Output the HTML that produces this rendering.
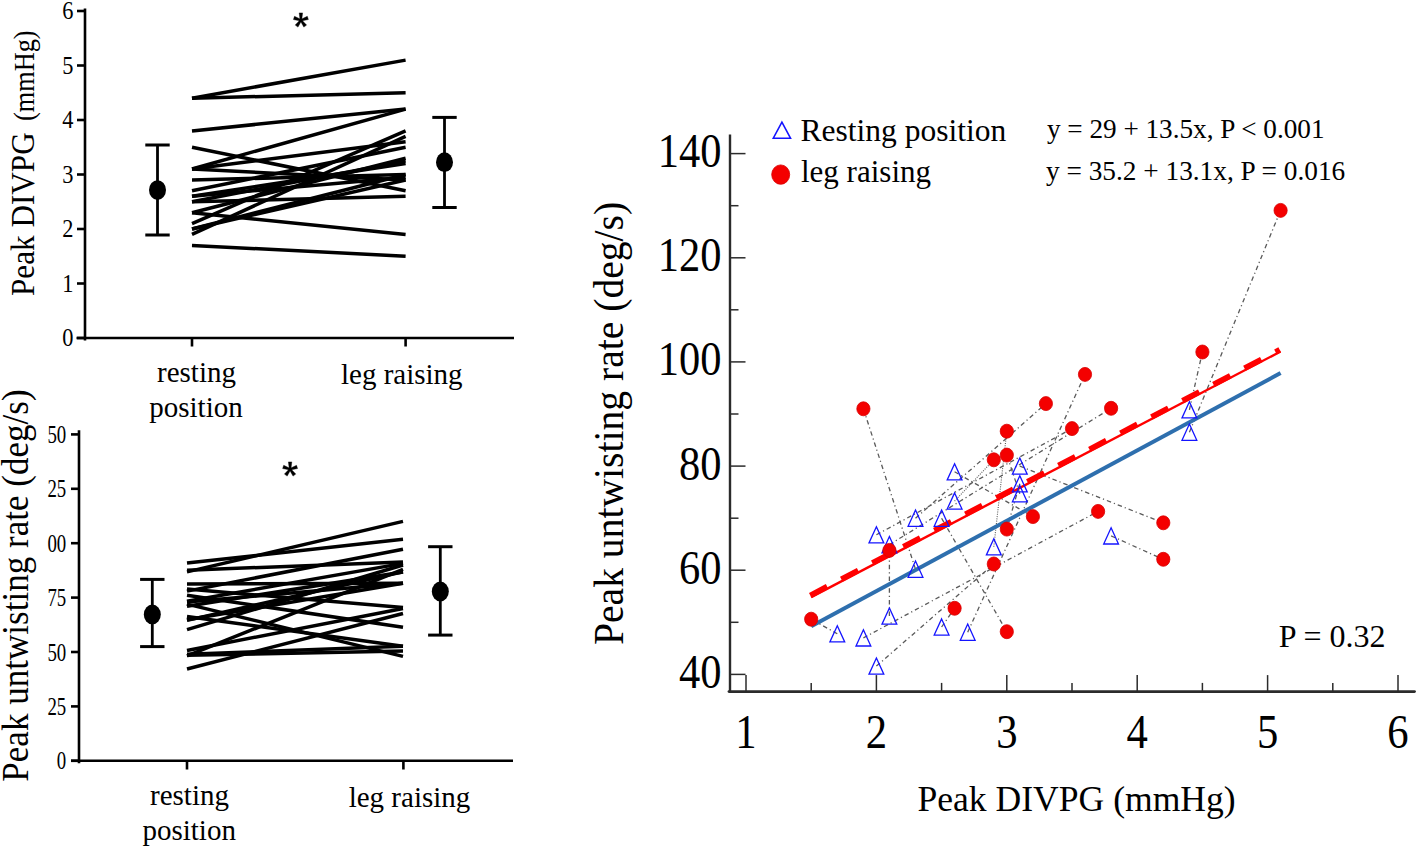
<!DOCTYPE html>
<html><head><meta charset="utf-8"><title>Figure</title>
<style>html,body{margin:0;padding:0;background:#fff;}svg{display:block;}text{font-family:"Liberation Serif",serif;fill:#000;}</style>
</head><body>
<svg width="1418" height="849" viewBox="0 0 1418 849">
<rect width="1418" height="849" fill="#fff"/>
<line x1="85" y1="9.7" x2="85" y2="339.3" stroke="#000" stroke-width="2.6" fill="none" stroke-linecap="square"/>
<line x1="76.5" y1="338" x2="514" y2="338" stroke="#000" stroke-width="2.6" fill="none"/>
<line x1="77" y1="338.0" x2="85" y2="338.0" stroke="#000" stroke-width="2.6" fill="none"/>
<text x="73.5" y="346.4" font-family="Liberation Serif" font-size="25.4" text-anchor="end" transform="translate(8.82,0) scale(0.88,1)">0</text>
<line x1="77" y1="283.5" x2="85" y2="283.5" stroke="#000" stroke-width="2.6" fill="none"/>
<text x="73.5" y="291.9" font-family="Liberation Serif" font-size="25.4" text-anchor="end" transform="translate(8.82,0) scale(0.88,1)">1</text>
<line x1="77" y1="229.0" x2="85" y2="229.0" stroke="#000" stroke-width="2.6" fill="none"/>
<text x="73.5" y="237.4" font-family="Liberation Serif" font-size="25.4" text-anchor="end" transform="translate(8.82,0) scale(0.88,1)">2</text>
<line x1="77" y1="174.5" x2="85" y2="174.5" stroke="#000" stroke-width="2.6" fill="none"/>
<text x="73.5" y="182.9" font-family="Liberation Serif" font-size="25.4" text-anchor="end" transform="translate(8.82,0) scale(0.88,1)">3</text>
<line x1="77" y1="120.0" x2="85" y2="120.0" stroke="#000" stroke-width="2.6" fill="none"/>
<text x="73.5" y="128.4" font-family="Liberation Serif" font-size="25.4" text-anchor="end" transform="translate(8.82,0) scale(0.88,1)">4</text>
<line x1="77" y1="65.5" x2="85" y2="65.5" stroke="#000" stroke-width="2.6" fill="none"/>
<text x="73.5" y="73.9" font-family="Liberation Serif" font-size="25.4" text-anchor="end" transform="translate(8.82,0) scale(0.88,1)">5</text>
<line x1="77" y1="11.0" x2="85" y2="11.0" stroke="#000" stroke-width="2.6" fill="none"/>
<text x="73.5" y="19.4" font-family="Liberation Serif" font-size="25.4" text-anchor="end" transform="translate(8.82,0) scale(0.88,1)">6</text>
<line x1="192" y1="338" x2="192" y2="346.5" stroke="#000" stroke-width="2.6" fill="none"/>
<line x1="405.6" y1="338" x2="405.6" y2="346.5" stroke="#000" stroke-width="2.6" fill="none"/>
<text x="196.5" y="382.4" font-family="Liberation Serif" font-size="29" text-anchor="middle">resting</text>
<text x="196" y="417.4" font-family="Liberation Serif" font-size="29" text-anchor="middle">position</text>
<text x="401.8" y="383.6" font-family="Liberation Serif" font-size="29" text-anchor="middle">leg raising</text>
<text font-family="Liberation Serif" font-size="33" transform="translate(34,296) rotate(-90) scale(0.945,1)">Peak DIVPG</text>
<text font-family="Liberation Serif" font-size="28.7" transform="translate(34.3,120.9) rotate(-90) scale(0.915,1)">(mmHg)</text>
<path d="M301.70,20.20L302.60,12.90L299.20,12.90L300.10,20.20ZM301.15,19.44L294.48,16.33L293.43,19.56L300.65,20.96ZM300.25,19.73L295.23,25.11L297.98,27.11L301.55,20.67ZM300.25,20.67L303.82,27.11L306.57,25.11L301.55,19.73ZM301.15,20.96L308.37,19.56L307.32,16.33L300.65,19.44Z" fill="#000" stroke="#000" stroke-width="0.4" stroke-linejoin="round"/>
<line x1="192" y1="98.2" x2="405.6" y2="60.1" stroke="#000" stroke-width="3.5"/>
<line x1="192" y1="98.2" x2="405.6" y2="92.8" stroke="#000" stroke-width="3.5"/>
<line x1="192" y1="130.9" x2="405.6" y2="109.1" stroke="#000" stroke-width="3.5"/>
<line x1="192" y1="169.0" x2="405.6" y2="109.1" stroke="#000" stroke-width="3.5"/>
<line x1="192" y1="147.2" x2="405.6" y2="190.8" stroke="#000" stroke-width="3.5"/>
<line x1="192" y1="169.0" x2="405.6" y2="141.8" stroke="#000" stroke-width="3.5"/>
<line x1="192" y1="169.0" x2="405.6" y2="180.0" stroke="#000" stroke-width="3.5"/>
<line x1="192" y1="180.0" x2="405.6" y2="174.5" stroke="#000" stroke-width="3.5"/>
<line x1="192" y1="190.8" x2="405.6" y2="147.2" stroke="#000" stroke-width="3.5"/>
<line x1="192" y1="196.3" x2="405.6" y2="163.6" stroke="#000" stroke-width="3.5"/>
<line x1="192" y1="201.8" x2="405.6" y2="160.9" stroke="#000" stroke-width="3.5"/>
<line x1="192" y1="201.8" x2="405.6" y2="196.3" stroke="#000" stroke-width="3.5"/>
<line x1="192" y1="212.7" x2="405.6" y2="234.4" stroke="#000" stroke-width="3.5"/>
<line x1="192" y1="212.7" x2="405.6" y2="158.2" stroke="#000" stroke-width="3.5"/>
<line x1="192" y1="223.6" x2="405.6" y2="130.9" stroke="#000" stroke-width="3.5"/>
<line x1="192" y1="234.4" x2="405.6" y2="136.3" stroke="#000" stroke-width="3.5"/>
<line x1="192" y1="229.0" x2="405.6" y2="174.5" stroke="#000" stroke-width="3.5"/>
<line x1="192" y1="245.4" x2="405.6" y2="256.2" stroke="#000" stroke-width="3.5"/>
<line x1="192" y1="196.3" x2="405.6" y2="177.2" stroke="#000" stroke-width="3.5"/>
<line x1="192" y1="229.0" x2="405.6" y2="180.0" stroke="#000" stroke-width="3.5"/>
<line x1="157.5" y1="145" x2="157.5" y2="235" stroke="#000" stroke-width="2.8"/>
<line x1="145.3" y1="145" x2="169.7" y2="145" stroke="#000" stroke-width="3"/>
<line x1="145.3" y1="235" x2="169.7" y2="235" stroke="#000" stroke-width="3"/>
<ellipse cx="157.5" cy="190.1" rx="8.5" ry="9.9" fill="#000"/>
<line x1="444.5" y1="117.4" x2="444.5" y2="207.5" stroke="#000" stroke-width="2.8"/>
<line x1="432.3" y1="117.4" x2="456.7" y2="117.4" stroke="#000" stroke-width="3"/>
<line x1="432.3" y1="207.5" x2="456.7" y2="207.5" stroke="#000" stroke-width="3"/>
<ellipse cx="444.5" cy="162.2" rx="8.5" ry="9.9" fill="#000"/>
<line x1="79" y1="431.5" x2="79" y2="762" stroke="#000" stroke-width="2.6" fill="none" stroke-linecap="square"/>
<line x1="71" y1="760.8" x2="513" y2="760.8" stroke="#000" stroke-width="2.6" fill="none"/>
<line x1="71" y1="434.4" x2="79" y2="434.4" stroke="#000" stroke-width="2.6" fill="none"/>
<text x="66.3" y="443.1" font-family="Liberation Serif" font-size="26" text-anchor="end" transform="translate(18.23,0) scale(0.725,1)">50</text>
<line x1="71" y1="488.8" x2="79" y2="488.8" stroke="#000" stroke-width="2.6" fill="none"/>
<text x="66.3" y="497.5" font-family="Liberation Serif" font-size="26" text-anchor="end" transform="translate(18.23,0) scale(0.725,1)">25</text>
<line x1="71" y1="543.2" x2="79" y2="543.2" stroke="#000" stroke-width="2.6" fill="none"/>
<text x="66.3" y="551.9" font-family="Liberation Serif" font-size="26" text-anchor="end" transform="translate(18.23,0) scale(0.725,1)">00</text>
<line x1="71" y1="597.6" x2="79" y2="597.6" stroke="#000" stroke-width="2.6" fill="none"/>
<text x="66.3" y="606.3" font-family="Liberation Serif" font-size="26" text-anchor="end" transform="translate(18.23,0) scale(0.725,1)">75</text>
<line x1="71" y1="652.0" x2="79" y2="652.0" stroke="#000" stroke-width="2.6" fill="none"/>
<text x="66.3" y="660.7" font-family="Liberation Serif" font-size="26" text-anchor="end" transform="translate(18.23,0) scale(0.725,1)">50</text>
<line x1="71" y1="706.4" x2="79" y2="706.4" stroke="#000" stroke-width="2.6" fill="none"/>
<text x="66.3" y="715.1" font-family="Liberation Serif" font-size="26" text-anchor="end" transform="translate(18.23,0) scale(0.725,1)">25</text>
<line x1="71" y1="760.8" x2="79" y2="760.8" stroke="#000" stroke-width="2.6" fill="none"/>
<text x="66.3" y="769.5" font-family="Liberation Serif" font-size="26" text-anchor="end" transform="translate(18.23,0) scale(0.725,1)">0</text>
<line x1="187" y1="760.8" x2="187" y2="769.5" stroke="#000" stroke-width="2.6" fill="none"/>
<line x1="403.4" y1="760.8" x2="403.4" y2="769.5" stroke="#000" stroke-width="2.6" fill="none"/>
<text x="189.5" y="805.4" font-family="Liberation Serif" font-size="29" text-anchor="middle">resting</text>
<text x="189.2" y="840" font-family="Liberation Serif" font-size="29" text-anchor="middle">position</text>
<text x="409.5" y="807" font-family="Liberation Serif" font-size="29" text-anchor="middle">leg raising</text>
<text font-family="Liberation Serif" font-size="37.5" transform="translate(27.8,781.7) rotate(-90) scale(0.935,1)">Peak untwisting rate (deg/s)</text>
<path d="M290.90,469.20L291.80,461.90L288.40,461.90L289.30,469.20ZM290.35,468.44L283.68,465.33L282.63,468.56L289.85,469.96ZM289.45,468.73L284.43,474.11L287.18,476.11L290.75,469.67ZM289.45,469.67L293.02,476.11L295.77,474.11L290.75,468.73ZM290.35,469.96L297.57,468.56L296.52,465.33L289.85,468.44Z" fill="#000" stroke="#000" stroke-width="0.4" stroke-linejoin="round"/>
<line x1="187" y1="563.0" x2="403" y2="539.3" stroke="#000" stroke-width="3.5"/>
<line x1="187" y1="571.9" x2="403" y2="521.4" stroke="#000" stroke-width="3.5"/>
<line x1="187" y1="570.2" x2="403" y2="562.1" stroke="#000" stroke-width="3.5"/>
<line x1="187" y1="601.3" x2="403" y2="563.4" stroke="#000" stroke-width="3.5"/>
<line x1="187" y1="606.3" x2="403" y2="571.9" stroke="#000" stroke-width="3.5"/>
<line x1="187" y1="620.4" x2="403" y2="571.9" stroke="#000" stroke-width="3.5"/>
<line x1="187" y1="602.0" x2="403" y2="583.2" stroke="#000" stroke-width="3.5"/>
<line x1="187" y1="619.8" x2="403" y2="583.2" stroke="#000" stroke-width="3.5"/>
<line x1="187" y1="591.1" x2="403" y2="549.3" stroke="#000" stroke-width="3.5"/>
<line x1="187" y1="589.1" x2="403" y2="607.4" stroke="#000" stroke-width="3.5"/>
<line x1="187" y1="650.5" x2="403" y2="608.5" stroke="#000" stroke-width="3.5"/>
<line x1="187" y1="669.0" x2="403" y2="613.5" stroke="#000" stroke-width="3.5"/>
<line x1="187" y1="595.2" x2="403" y2="627.2" stroke="#000" stroke-width="3.5"/>
<line x1="187" y1="616.5" x2="403" y2="646.3" stroke="#000" stroke-width="3.5"/>
<line x1="187" y1="655.3" x2="403" y2="651.1" stroke="#000" stroke-width="3.5"/>
<line x1="187" y1="604.1" x2="403" y2="656.4" stroke="#000" stroke-width="3.5"/>
<line x1="187" y1="654.2" x2="403" y2="646.3" stroke="#000" stroke-width="3.5"/>
<line x1="187" y1="629.6" x2="403" y2="565.0" stroke="#000" stroke-width="3.5"/>
<line x1="187" y1="655.9" x2="403" y2="569.3" stroke="#000" stroke-width="3.5"/>
<line x1="187" y1="584.1" x2="403" y2="583.2" stroke="#000" stroke-width="3.5"/>
<line x1="152.3" y1="579.4" x2="152.3" y2="646.6" stroke="#000" stroke-width="2.8"/>
<line x1="140.10000000000002" y1="579.4" x2="164.5" y2="579.4" stroke="#000" stroke-width="3"/>
<line x1="140.10000000000002" y1="646.6" x2="164.5" y2="646.6" stroke="#000" stroke-width="3"/>
<ellipse cx="152.3" cy="614.4" rx="8.5" ry="9.9" fill="#000"/>
<line x1="440.3" y1="546.7" x2="440.3" y2="635.1" stroke="#000" stroke-width="2.8"/>
<line x1="428.1" y1="546.7" x2="452.5" y2="546.7" stroke="#000" stroke-width="3"/>
<line x1="428.1" y1="635.1" x2="452.5" y2="635.1" stroke="#000" stroke-width="3"/>
<ellipse cx="440.3" cy="591.5" rx="8.5" ry="9.9" fill="#000"/>
<line x1="730" y1="134.4" x2="730" y2="691.6" stroke="#2b2b2b" fill="none" stroke-width="2.4"/>
<line x1="729" y1="691.6" x2="1414.5" y2="691.6" stroke="#2b2b2b" fill="none" stroke-width="2.8" stroke-linecap="round"/>
<line x1="730" y1="674.4" x2="745.5" y2="674.4" stroke="#2b2b2b" fill="none" stroke-width="1.5"/>
<text x="721.5" y="687.9" font-family="Liberation Serif" font-size="48.5" text-anchor="end" transform="translate(89.47,0) scale(0.876,1)">40</text>
<line x1="730" y1="622.3" x2="738.5" y2="622.3" stroke="#2b2b2b" fill="none" stroke-width="1.5"/>
<line x1="730" y1="570.2" x2="745.5" y2="570.2" stroke="#2b2b2b" fill="none" stroke-width="1.5"/>
<text x="721.5" y="583.7" font-family="Liberation Serif" font-size="48.5" text-anchor="end" transform="translate(89.47,0) scale(0.876,1)">60</text>
<line x1="730" y1="518.2" x2="738.5" y2="518.2" stroke="#2b2b2b" fill="none" stroke-width="1.5"/>
<line x1="730" y1="466.1" x2="745.5" y2="466.1" stroke="#2b2b2b" fill="none" stroke-width="1.5"/>
<text x="721.5" y="479.6" font-family="Liberation Serif" font-size="48.5" text-anchor="end" transform="translate(89.47,0) scale(0.876,1)">80</text>
<line x1="730" y1="414.0" x2="738.5" y2="414.0" stroke="#2b2b2b" fill="none" stroke-width="1.5"/>
<line x1="730" y1="361.9" x2="745.5" y2="361.9" stroke="#2b2b2b" fill="none" stroke-width="1.5"/>
<text x="721.5" y="375.4" font-family="Liberation Serif" font-size="48.5" text-anchor="end" transform="translate(89.47,0) scale(0.876,1)">100</text>
<line x1="730" y1="309.8" x2="738.5" y2="309.8" stroke="#2b2b2b" fill="none" stroke-width="1.5"/>
<line x1="730" y1="257.8" x2="745.5" y2="257.8" stroke="#2b2b2b" fill="none" stroke-width="1.5"/>
<text x="721.5" y="271.3" font-family="Liberation Serif" font-size="48.5" text-anchor="end" transform="translate(89.47,0) scale(0.876,1)">120</text>
<line x1="730" y1="205.7" x2="738.5" y2="205.7" stroke="#2b2b2b" fill="none" stroke-width="1.5"/>
<line x1="730" y1="153.6" x2="745.5" y2="153.6" stroke="#2b2b2b" fill="none" stroke-width="1.5"/>
<text x="721.5" y="167.1" font-family="Liberation Serif" font-size="48.5" text-anchor="end" transform="translate(89.47,0) scale(0.876,1)">140</text>
<line x1="746.0" y1="691.6" x2="746.0" y2="675.1" stroke="#2b2b2b" fill="none" stroke-width="1.5"/>
<text x="746.0" y="748.4" font-family="Liberation Serif" font-size="48.5" text-anchor="middle" transform="translate(89.52,0) scale(0.88,1)">1</text>
<line x1="811.2" y1="691.6" x2="811.2" y2="682.9" stroke="#2b2b2b" fill="none" stroke-width="1.5"/>
<line x1="876.4" y1="691.6" x2="876.4" y2="675.1" stroke="#2b2b2b" fill="none" stroke-width="1.5"/>
<text x="876.4" y="748.4" font-family="Liberation Serif" font-size="48.5" text-anchor="middle" transform="translate(105.17,0) scale(0.88,1)">2</text>
<line x1="941.6" y1="691.6" x2="941.6" y2="682.9" stroke="#2b2b2b" fill="none" stroke-width="1.5"/>
<line x1="1006.8" y1="691.6" x2="1006.8" y2="675.1" stroke="#2b2b2b" fill="none" stroke-width="1.5"/>
<text x="1006.8" y="748.4" font-family="Liberation Serif" font-size="48.5" text-anchor="middle" transform="translate(120.82,0) scale(0.88,1)">3</text>
<line x1="1072.0" y1="691.6" x2="1072.0" y2="682.9" stroke="#2b2b2b" fill="none" stroke-width="1.5"/>
<line x1="1137.2" y1="691.6" x2="1137.2" y2="675.1" stroke="#2b2b2b" fill="none" stroke-width="1.5"/>
<text x="1137.2" y="748.4" font-family="Liberation Serif" font-size="48.5" text-anchor="middle" transform="translate(136.46,0) scale(0.88,1)">4</text>
<line x1="1202.4" y1="691.6" x2="1202.4" y2="682.9" stroke="#2b2b2b" fill="none" stroke-width="1.5"/>
<line x1="1267.6" y1="691.6" x2="1267.6" y2="675.1" stroke="#2b2b2b" fill="none" stroke-width="1.5"/>
<text x="1267.6" y="748.4" font-family="Liberation Serif" font-size="48.5" text-anchor="middle" transform="translate(152.11,0) scale(0.88,1)">5</text>
<line x1="1332.8" y1="691.6" x2="1332.8" y2="682.9" stroke="#2b2b2b" fill="none" stroke-width="1.5"/>
<line x1="1398.0" y1="691.6" x2="1398.0" y2="675.1" stroke="#2b2b2b" fill="none" stroke-width="1.5"/>
<text x="1398.0" y="748.4" font-family="Liberation Serif" font-size="48.5" text-anchor="middle" transform="translate(167.76,0) scale(0.88,1)">6</text>
<text x="917.5" y="810.6" font-family="Liberation Serif" font-size="35.6">Peak DIVPG (mmHg)</text>
<text font-family="Liberation Serif" font-size="43" transform="translate(623.2,645) rotate(-90) scale(0.921,1)">Peak untwisting rate (deg/s)</text>
<text x="1278.8" y="646.5" font-family="Liberation Serif" font-size="32">P = 0.32</text>
<text x="1046.9" y="138.2" font-family="Liberation Serif" font-size="27.2">y = 29 + 13.5x, P &lt; 0.001</text>
<text x="1046" y="179.5" font-family="Liberation Serif" font-size="27.3">y = 35.2 + 13.1x, P = 0.016</text>
<text x="800.5" y="141" font-family="Liberation Serif" font-size="31.5">Resting position</text>
<text x="801" y="181.6" font-family="Liberation Serif" font-size="31">leg raising</text>
<path d="M781.9,122.2L790.5,138.2L773.3,138.2Z" fill="none" stroke="#1414ff" stroke-width="1.6" stroke-linejoin="miter"/>
<ellipse cx="780.7" cy="174.6" rx="9.0" ry="9.7" fill="#f40000" stroke="#d80000" stroke-width="0.8"/>
<line x1="1189.4" y1="432.2" x2="1280.6" y2="210.4" stroke="#5a5a5a" stroke-width="1.3" stroke-dasharray="4.5 3 1.2 3"/>
<line x1="1189.4" y1="409.8" x2="1202.4" y2="352.0" stroke="#5a5a5a" stroke-width="1.3" stroke-dasharray="4.5 3 1.2 3"/>
<line x1="1111.1" y1="535.9" x2="1163.3" y2="559.3" stroke="#5a5a5a" stroke-width="1.3" stroke-dasharray="4.5 3 1.2 3"/>
<line x1="1019.8" y1="466.1" x2="1163.3" y2="522.8" stroke="#5a5a5a" stroke-width="1.3" stroke-dasharray="4.5 3 1.2 3"/>
<line x1="837.3" y1="633.8" x2="811.2" y2="619.2" stroke="#5a5a5a" stroke-width="1.3" stroke-dasharray="4.5 3 1.2 3"/>
<line x1="954.6" y1="471.8" x2="1032.9" y2="516.6" stroke="#5a5a5a" stroke-width="1.3" stroke-dasharray="4.5 3 1.2 3"/>
<line x1="954.6" y1="501.0" x2="993.8" y2="459.8" stroke="#5a5a5a" stroke-width="1.1" stroke-dasharray="1 1.3"/>
<line x1="863.4" y1="637.9" x2="1098.1" y2="511.4" stroke="#5a5a5a" stroke-width="1.3" stroke-dasharray="4.5 3 1.2 3"/>
<line x1="915.5" y1="569.2" x2="863.4" y2="408.8" stroke="#5a5a5a" stroke-width="1.3" stroke-dasharray="4.5 3 1.2 3"/>
<line x1="941.6" y1="518.2" x2="1006.8" y2="631.7" stroke="#5a5a5a" stroke-width="1.3" stroke-dasharray="4.5 3 1.2 3"/>
<line x1="889.4" y1="616.1" x2="889.4" y2="550.4" stroke="#5a5a5a" stroke-width="1.3" stroke-dasharray="4.5 3 1.2 3"/>
<line x1="876.4" y1="666.1" x2="993.8" y2="564.0" stroke="#5a5a5a" stroke-width="1.3" stroke-dasharray="4.5 3 1.2 3"/>
<line x1="941.6" y1="627.0" x2="954.6" y2="608.3" stroke="#5a5a5a" stroke-width="1.3" stroke-dasharray="4.5 3 1.2 3"/>
<line x1="967.7" y1="632.2" x2="1085.0" y2="374.4" stroke="#5a5a5a" stroke-width="1.3" stroke-dasharray="4.5 3 1.2 3"/>
<line x1="993.8" y1="546.8" x2="1006.8" y2="431.2" stroke="#5a5a5a" stroke-width="1.1" stroke-dasharray="1 1.3"/>
<line x1="915.5" y1="518.2" x2="1045.9" y2="403.6" stroke="#5a5a5a" stroke-width="1.3" stroke-dasharray="4.5 3 1.2 3"/>
<line x1="876.4" y1="534.8" x2="1072.0" y2="428.6" stroke="#5a5a5a" stroke-width="1.3" stroke-dasharray="4.5 3 1.2 3"/>
<line x1="889.4" y1="544.7" x2="1111.1" y2="408.3" stroke="#5a5a5a" stroke-width="1.3" stroke-dasharray="4.5 3 1.2 3"/>
<line x1="1019.8" y1="483.8" x2="1006.8" y2="529.1" stroke="#5a5a5a" stroke-width="1.3" stroke-dasharray="4.5 3 1.2 3"/>
<line x1="1019.8" y1="493.7" x2="1006.8" y2="455.1" stroke="#5a5a5a" stroke-width="1.3" stroke-dasharray="4.5 3 1.2 3"/>
<line x1="811.2" y1="626.2" x2="1280.6" y2="373.1" stroke="#2e6fae" stroke-width="4"/>
<line x1="811.2" y1="597.1" x2="1280.6" y2="351.5" stroke="#ff0000" stroke-width="2.4"/>
<line x1="811.2" y1="597.1" x2="1280.6" y2="351.5" stroke="#ff0000" stroke-width="5.6" stroke-dasharray="19 16" transform="translate(-0.9,-1.7)"/>
<path d="M1189.4,424.1L1196.8,440.3L1182.0,440.3Z" fill="none" stroke="#1414ff" stroke-width="1.3" stroke-linejoin="miter"/>
<path d="M1189.4,401.7L1196.8,417.9L1182.0,417.9Z" fill="none" stroke="#1414ff" stroke-width="1.3" stroke-linejoin="miter"/>
<path d="M1111.1,527.8L1118.5,544.0L1103.7,544.0Z" fill="none" stroke="#1414ff" stroke-width="1.3" stroke-linejoin="miter"/>
<path d="M1019.8,458.0L1027.2,474.2L1012.4,474.2Z" fill="none" stroke="#1414ff" stroke-width="1.3" stroke-linejoin="miter"/>
<path d="M837.3,625.7L844.7,641.9L829.9,641.9Z" fill="none" stroke="#1414ff" stroke-width="1.3" stroke-linejoin="miter"/>
<path d="M954.6,463.7L962.0,479.9L947.2,479.9Z" fill="none" stroke="#1414ff" stroke-width="1.3" stroke-linejoin="miter"/>
<path d="M954.6,492.9L962.0,509.1L947.2,509.1Z" fill="none" stroke="#1414ff" stroke-width="1.3" stroke-linejoin="miter"/>
<path d="M863.4,629.8L870.8,646.0L856.0,646.0Z" fill="none" stroke="#1414ff" stroke-width="1.3" stroke-linejoin="miter"/>
<path d="M915.5,561.1L922.9,577.3L908.1,577.3Z" fill="none" stroke="#1414ff" stroke-width="1.3" stroke-linejoin="miter"/>
<path d="M941.6,510.1L949.0,526.3L934.2,526.3Z" fill="none" stroke="#1414ff" stroke-width="1.3" stroke-linejoin="miter"/>
<path d="M889.4,608.0L896.8,624.2L882.0,624.2Z" fill="none" stroke="#1414ff" stroke-width="1.3" stroke-linejoin="miter"/>
<path d="M876.4,658.0L883.8,674.2L869.0,674.2Z" fill="none" stroke="#1414ff" stroke-width="1.3" stroke-linejoin="miter"/>
<path d="M941.6,618.9L949.0,635.1L934.2,635.1Z" fill="none" stroke="#1414ff" stroke-width="1.3" stroke-linejoin="miter"/>
<path d="M967.7,624.1L975.1,640.3L960.3,640.3Z" fill="none" stroke="#1414ff" stroke-width="1.3" stroke-linejoin="miter"/>
<path d="M993.8,538.7L1001.2,554.9L986.4,554.9Z" fill="none" stroke="#1414ff" stroke-width="1.3" stroke-linejoin="miter"/>
<path d="M915.5,510.1L922.9,526.3L908.1,526.3Z" fill="none" stroke="#1414ff" stroke-width="1.3" stroke-linejoin="miter"/>
<path d="M876.4,526.7L883.8,542.9L869.0,542.9Z" fill="none" stroke="#1414ff" stroke-width="1.3" stroke-linejoin="miter"/>
<path d="M889.4,536.6L896.8,552.8L882.0,552.8Z" fill="none" stroke="#1414ff" stroke-width="1.3" stroke-linejoin="miter"/>
<path d="M1019.8,475.7L1027.2,491.9L1012.4,491.9Z" fill="none" stroke="#1414ff" stroke-width="1.3" stroke-linejoin="miter"/>
<path d="M1019.8,485.6L1027.2,501.8L1012.4,501.8Z" fill="none" stroke="#1414ff" stroke-width="1.3" stroke-linejoin="miter"/>
<ellipse cx="1280.6" cy="210.4" rx="6.6" ry="7.0" fill="#f40000" stroke="#d80000" stroke-width="0.8"/>
<ellipse cx="1202.4" cy="352.0" rx="6.6" ry="7.0" fill="#f40000" stroke="#d80000" stroke-width="0.8"/>
<ellipse cx="1163.3" cy="559.3" rx="6.6" ry="7.0" fill="#f40000" stroke="#d80000" stroke-width="0.8"/>
<ellipse cx="1163.3" cy="522.8" rx="6.6" ry="7.0" fill="#f40000" stroke="#d80000" stroke-width="0.8"/>
<ellipse cx="811.2" cy="619.2" rx="6.6" ry="7.0" fill="#f40000" stroke="#d80000" stroke-width="0.8"/>
<ellipse cx="1032.9" cy="516.6" rx="6.6" ry="7.0" fill="#f40000" stroke="#d80000" stroke-width="0.8"/>
<ellipse cx="993.8" cy="459.8" rx="6.6" ry="7.0" fill="#f40000" stroke="#d80000" stroke-width="0.8"/>
<ellipse cx="1098.1" cy="511.4" rx="6.6" ry="7.0" fill="#f40000" stroke="#d80000" stroke-width="0.8"/>
<ellipse cx="863.4" cy="408.8" rx="6.6" ry="7.0" fill="#f40000" stroke="#d80000" stroke-width="0.8"/>
<ellipse cx="1006.8" cy="631.7" rx="6.6" ry="7.0" fill="#f40000" stroke="#d80000" stroke-width="0.8"/>
<ellipse cx="889.4" cy="550.4" rx="6.6" ry="7.0" fill="#f40000" stroke="#d80000" stroke-width="0.8"/>
<ellipse cx="993.8" cy="564.0" rx="6.6" ry="7.0" fill="#f40000" stroke="#d80000" stroke-width="0.8"/>
<ellipse cx="954.6" cy="608.3" rx="6.6" ry="7.0" fill="#f40000" stroke="#d80000" stroke-width="0.8"/>
<ellipse cx="1085.0" cy="374.4" rx="6.6" ry="7.0" fill="#f40000" stroke="#d80000" stroke-width="0.8"/>
<ellipse cx="1006.8" cy="431.2" rx="6.6" ry="7.0" fill="#f40000" stroke="#d80000" stroke-width="0.8"/>
<ellipse cx="1045.9" cy="403.6" rx="6.6" ry="7.0" fill="#f40000" stroke="#d80000" stroke-width="0.8"/>
<ellipse cx="1072.0" cy="428.6" rx="6.6" ry="7.0" fill="#f40000" stroke="#d80000" stroke-width="0.8"/>
<ellipse cx="1111.1" cy="408.3" rx="6.6" ry="7.0" fill="#f40000" stroke="#d80000" stroke-width="0.8"/>
<ellipse cx="1006.8" cy="529.1" rx="6.6" ry="7.0" fill="#f40000" stroke="#d80000" stroke-width="0.8"/>
<ellipse cx="1006.8" cy="455.1" rx="6.6" ry="7.0" fill="#f40000" stroke="#d80000" stroke-width="0.8"/>
</svg>
</body></html>
